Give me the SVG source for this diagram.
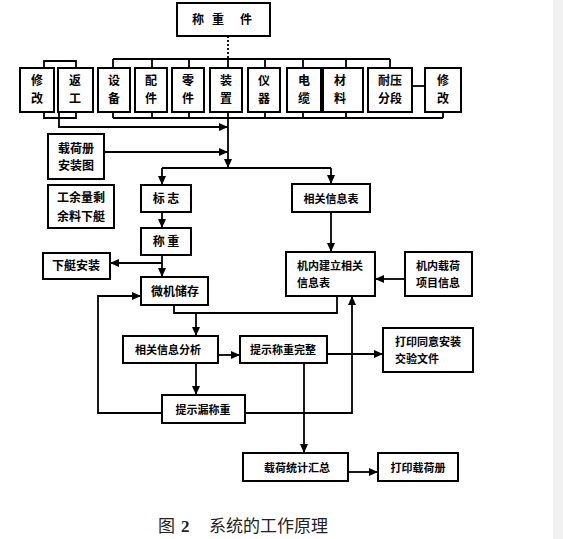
<svg xmlns="http://www.w3.org/2000/svg" width="563" height="539" viewBox="0 0 563 539">
<defs>
<marker id="ah" markerUnits="userSpaceOnUse" markerWidth="9" markerHeight="8" refX="9" refY="4" orient="auto">
<path d="M0,0 L9,4 L0,8 z" fill="#000"/>
</marker>
<style>
.b{fill:#fff;stroke:#000;stroke-width:2}
.t{font-family:"Noto Sans CJK SC","Noto Sans CJK TC",sans-serif;font-size:12px;font-weight:bold;fill:#000}
.s{font-size:11px}
.c{text-anchor:middle}
.l{fill:none;stroke:#000;stroke-width:1.8}
.a{fill:none;stroke:#000;stroke-width:1.8;marker-end:url(#ah)}
.cap{font-family:"Liberation Serif","Noto Sans CJK SC",serif;font-size:17px;fill:#222}
</style>
</defs>
<rect width="563" height="539" fill="#fff"/>
<rect x="553" y="0" width="10" height="539" fill="#f1f1f1"/>

<g id="connectors">
<path class="l" d="M228 36 V59" stroke-dasharray="2 2"/>
<path class="l" d="M113 59 H390 M113 59 V68 M152 59 V68 M189 59 V68 M228 59 V68 M265 59 V68 M303 59 V68 M346 59 V68 M390 59 V68"/>
<path class="l" d="M113 118 H443 M113 112 V118 M152 112 V118 M189 112 V118 M228 112 V118 M265 112 V118 M303 112 V118 M346 112 V118 M443 112 V118"/>
<path class="l" d="M412 86 H425"/>
<path class="l" d="M44 68 V61 H76 V68"/>
<path class="l" d="M44 112 V118 H76 V112"/>
<path class="a" d="M59 112 V127 H228"/>
<path class="a" d="M104 152 H228"/>
<path class="a" d="M228 118 V168"/>
<path class="l" d="M162 168 H331"/>
<path class="a" d="M162 168 V185"/>
<path class="a" d="M331 168 V184"/>
<path class="a" d="M162 212 V228"/>
<path class="a" d="M162 255 V277"/>
<path class="a" d="M162 263 H110"/>
<path class="a" d="M162 413 H98 V296 H141"/>
<path class="l" d="M174 305 V313 H337 V296"/>
<path class="a" d="M196 313 V336"/>
<path class="a" d="M218 355 H240"/>
<path class="a" d="M196 363 V395"/>
<path class="a" d="M245 413 H352 V296"/>
<path class="a" d="M327 354 H383"/>
<path class="a" d="M304 363 V453"/>
<path class="a" d="M348 472 H378"/>
<path class="a" d="M331 212 V252"/>
<path class="a" d="M405 279 H375"/>
</g>

<g id="n_chengzhongjian"><rect class="b" x="177" y="3" width="93" height="33"/>
<text class="t c" x="198" y="24">称</text><text class="t c" x="218" y="24">重</text><text class="t c" x="246" y="24">件</text></g>

<g id="n_xiugai1"><rect class="b" x="20" y="68" width="34" height="44"/><text class="t c" x="37" y="85">修</text><text class="t c" x="37" y="103">改</text></g>
<g id="n_fangong"><rect class="b" x="58" y="68" width="35" height="44"/><text class="t c" x="75" y="85">返</text><text class="t c" x="75" y="103">工</text></g>
<g id="n_shebei"><rect class="b" x="98" y="68" width="32" height="44"/><text class="t c" x="114" y="85">设</text><text class="t c" x="114" y="103">备</text></g>
<g id="n_peijian"><rect class="b" x="135" y="68" width="32" height="44"/><text class="t c" x="151" y="85">配</text><text class="t c" x="151" y="103">件</text></g>
<g id="n_lingjian"><rect class="b" x="172" y="68" width="32" height="44"/><text class="t c" x="188" y="85">零</text><text class="t c" x="188" y="103">件</text></g>
<g id="n_zhuangzhi"><rect class="b" x="210" y="68" width="32" height="44"/><text class="t c" x="226" y="85">装</text><text class="t c" x="226" y="103">置</text></g>
<g id="n_yiqi"><rect class="b" x="248" y="68" width="32" height="44"/><text class="t c" x="264" y="85">仪</text><text class="t c" x="264" y="103">器</text></g>
<g id="n_dianlan"><rect class="b" x="287" y="68" width="34" height="44"/><text class="t c" x="304" y="85">电</text><text class="t c" x="304" y="103">缆</text></g>
<g id="n_cailiao"><rect class="b" x="323" y="68" width="40" height="44"/><text class="t c" x="340" y="85">材</text><text class="t c" x="340" y="103">料</text></g>
<g id="n_naiya"><rect class="b" x="368" y="68" width="44" height="44"/><text class="t c" x="390" y="85">耐压</text><text class="t c" x="390" y="103">分段</text></g>
<g id="n_xiugai2"><rect class="b" x="425" y="68" width="36" height="44"/><text class="t c" x="443" y="85">修</text><text class="t c" x="443" y="103">改</text></g>

<g id="n_zaihece"><rect class="b" x="48" y="134" width="56" height="45"/><text class="t c" x="76" y="153">载荷册</text><text class="t c" x="76" y="170">安装图</text></g>
<g id="n_yuliang"><rect class="b" x="48" y="185" width="66" height="43"/><text class="t c" x="81" y="202">工余量剩</text><text class="t c" x="81" y="221">余料下艇</text></g>
<g id="n_biaozhi"><rect class="b" x="141" y="185" width="50" height="27"/><text class="t c" x="166" y="203">标  志</text></g>
<g id="n_chengzhong"><rect class="b" x="141" y="228" width="50" height="27"/><text class="t c" x="166" y="246">称  重</text></g>
<g id="n_xiating"><rect class="b" x="43" y="253" width="67" height="26"/><text class="t c" x="76" y="270">下艇安装</text></g>
<g id="n_weiji"><rect class="b" x="141" y="277" width="67" height="28"/><text class="t c" x="175" y="296">微机储存</text></g>
<g id="n_fenxi"><rect class="b" x="123" y="336" width="95" height="27"/><text class="t s c" x="168" y="354">相关信息分析</text></g>
<g id="n_wanzheng"><rect class="b" x="240" y="336" width="87" height="27"/><text class="t s c" x="283" y="354">提示称重完整</text></g>
<g id="n_louchengzhong"><rect class="b" x="162" y="395" width="83" height="28"/><text class="t s c" x="203" y="414">提示漏称重</text></g>
<g id="n_dayinwenjian"><rect class="b" x="383" y="328" width="90" height="44"/><text class="t s" x="395" y="346">打印同意安装</text><text class="t s" x="395" y="363">交验文件</text></g>
<g id="n_huizong"><rect class="b" x="243" y="453" width="105" height="28"/><text class="t s c" x="297" y="472">载荷统计汇总</text></g>
<g id="n_dayince"><rect class="b" x="378" y="453" width="80" height="28"/><text class="t s c" x="418" y="472">打印载荷册</text></g>
<g id="n_xinxibiao"><rect class="b" x="292" y="184" width="78" height="28"/><text class="t s c" x="331" y="203">相关信息表</text></g>
<g id="n_jianli"><rect class="b" x="286" y="252" width="89" height="44"/><text class="t s" x="297" y="270">机内建立相关</text><text class="t s" x="297" y="287">信息表</text></g>
<g id="n_xiangmu"><rect class="b" x="405" y="252" width="67" height="44"/><text class="t s" x="416" y="270">机内载荷</text><text class="t s" x="416" y="287">项目信息</text></g>

<g id="caption"><text class="cap" x="158" y="532">图</text><text class="cap" x="181" y="532" font-weight="bold">2</text><text class="cap" x="209" y="532">系统的工作原理</text></g>
</svg>
